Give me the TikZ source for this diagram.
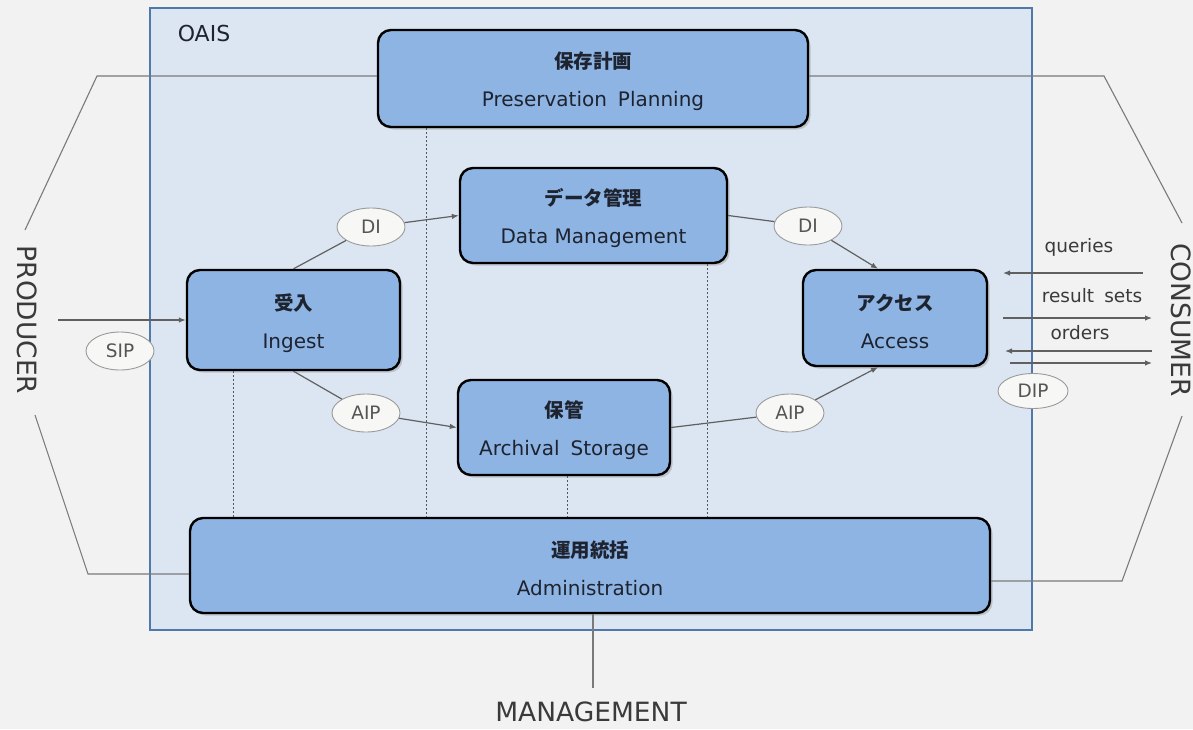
\documentclass[tikz,border=0pt]{standalone}
\usepackage{fontspec}
\setmainfont{DejaVu Sans}
\newfontfamily\jp{Noto Sans CJK JP}
\usetikzlibrary{shapes.geometric,arrows.meta,shadows}
\definecolor{bg}{HTML}{F2F2F2}
\definecolor{oaisfill}{HTML}{DCE6F2}
\definecolor{oaisline}{HTML}{4F78AC}
\definecolor{boxblue}{HTML}{8EB4E3}
\definecolor{boxtext}{HTML}{1E2330}
\definecolor{ellfill}{HTML}{F7F7F5}
\definecolor{ellline}{HTML}{9A9A9A}
\definecolor{elltext}{HTML}{555555}
\definecolor{lineg}{HTML}{606060}
\definecolor{outg}{HTML}{7A7A7A}
\definecolor{dotg}{HTML}{555555}
\definecolor{biglbl}{HTML}{3A3A3A}
\newcommand\bxt[2]{\rule{0pt}{23pt}{\jp\bfseries\fontsize{19.5}{38}\selectfont #1}\\#2}
\begin{document}
\begin{tikzpicture}[x=1pt,y=-1pt,
  procbox/.style={draw=black, line width=2.4pt, fill=boxblue, rounded corners=13pt, inner sep=0pt, align=center, text=boxtext, font=\fontsize{20}{38}\selectfont, drop shadow={shadow xshift=2.5pt,shadow yshift=-2.5pt,opacity=0.35}},
  flowlbl/.style={ellipse, draw=ellline, fill=ellfill, line width=0.9pt, minimum width=68pt, minimum height=38pt, inner sep=0pt, text=elltext, font=\fontsize{18.5}{20}\selectfont},
  conn/.style={draw=lineg, line width=1.2pt},
  tip/.style={-{Latex[length=7pt,width=5.5pt]}},
  outer/.style={draw=outg, line width=1.1pt},
  dotl/.style={draw=dotg, line width=0.9pt, dash pattern=on 2pt off 2pt},
  bigl/.style={text=biglbl, font=\fontsize{26.5}{28}\selectfont},
  smalll/.style={text=biglbl, font=\fontsize{18.5}{20}\selectfont}
]
\fill[bg] (0,0) rectangle (1193,729);
\useasboundingbox (0,0) rectangle (1193,729);

% OAIS frame
\node[draw=oaisline, fill=oaisfill, line width=1.6pt, minimum width=882pt, minimum height=622pt, inner sep=0pt] (oais) at (591,319) {};
\node[text=boxtext, font=\fontsize{22}{24}\selectfont] (oaislbl) at (204,33) {OAIS};

% dotted guides
\coordinate (gx1) at (426,0);
\coordinate (gx2) at (707,0);
\coordinate (gx3) at (233,0);
\coordinate (gx4) at (567,0);

% boxes
\node[procbox, minimum width=430pt, minimum height=97pt] (pp) at (593,78.5) {\bxt{保存計画}{Preservation\hspace{0.55em}Planning}};
\node[procbox, minimum width=267pt, minimum height=95pt] (dm) at (593.5,215.5) {\bxt{データ管理}{Data Management}};
\node[procbox, minimum width=213pt, minimum height=100pt] (ing) at (293.5,320) {\bxt{受入}{Ingest}};
\node[procbox, minimum width=184pt, minimum height=96pt] (acc) at (895,318) {\bxt{アクセス}{Access}};
\node[procbox, minimum width=212pt, minimum height=95pt] (as) at (564,427.5) {\bxt{保管}{Archival\hspace{0.55em}Storage}};
\node[procbox, minimum width=800pt, minimum height=95pt] (adm) at (590,565.5) {\bxt{運用統括}{Administration}};

\draw[dotl] (pp.south -| gx1) -- (adm.north -| gx1);
\draw[dotl] (dm.south -| gx2) -- (adm.north -| gx2);
\draw[dotl] (ing.south -| gx3) -- (adm.north -| gx3);
\draw[dotl] (as.south -| gx4) -- (adm.north -| gx4);

% flow labels
\node[flowlbl] (di1) at (371,227) {DI};
\node[flowlbl] (di2) at (808,226) {DI};
\node[flowlbl] (aip1) at (366,413) {AIP};
\node[flowlbl] (aip2) at (790,413) {AIP};
\node[flowlbl] (sip) at (120,351) {SIP};
\node[flowlbl, minimum width=70pt, minimum height=35pt] (dip) at (1033,391) {DIP};

% internal flows
\draw[conn] (ing.north) -- (di1);
\draw[conn,tip] (di1) -- (dm.west);
\draw[conn] (dm.east) -- (di2);
\draw[conn,tip] (di2) -- ([xshift=-17pt]acc.north);
\draw[conn] (ing.south) -- (aip1);
\draw[conn,tip] (aip1) -- (as.west);
\draw[conn] (as.east) -- (aip2);
\draw[conn,tip] (aip2) -- ([xshift=-17pt]acc.south);

% producer input
\coordinate (sipsrc) at (58,320);
\draw[conn,tip] (sipsrc) -- (ing.west);

% consumer arrows
\coordinate (qa) at (1143,273);
\coordinate (qb) at (1003,273);
\coordinate (ra) at (1003,318);
\coordinate (rb) at (1152,318);
\coordinate (oa) at (1152,351);
\coordinate (ob) at (1005,351);
\coordinate (da) at (1010,363);
\coordinate (db) at (1152,363);
\draw[conn,tip] (qa) -- (qb);
\draw[conn,tip] (ra) -- (rb);
\draw[conn,tip] (oa) -- (ob);
\draw[conn,tip] (da) -- (db);
\node[smalll] (lq) at (1079,247) {queries};
\node[smalll] (lr) at (1092,296) {result\hspace{0.55em}sets};
\node[smalll] (lo) at (1080,333) {orders};

% outer context lines
\coordinate (plA) at (97,76);
\coordinate (plB) at (25,230);
\coordinate (prA) at (1104,76);
\coordinate (prB) at (1182,223);
\coordinate (alA) at (88,574);
\coordinate (alB) at (35,415);
\coordinate (arA) at (1122,581);
\coordinate (arB) at (1182,416);
\coordinate (mgA) at (593,688);
\draw[outer] (pp.west |- plA) -- (plA) -- (plB);
\draw[outer] (pp.east |- prA) -- (prA) -- (prB);
\draw[outer] (adm.west |- alA) -- (alA) -- (alB);
\draw[outer] (adm.east |- arA) -- (arA) -- (arB);
\draw[outer] (adm.south -| mgA) -- (mgA);

% external entities
\node[bigl, rotate=-90] (prod) at (27,320) {PRODUCER};
\node[bigl, rotate=-90] (cons) at (1181,320) {CONSUMER};
\node[bigl] (mgmt) at (591,712) {MANAGEMENT};
\end{tikzpicture}
\end{document}
